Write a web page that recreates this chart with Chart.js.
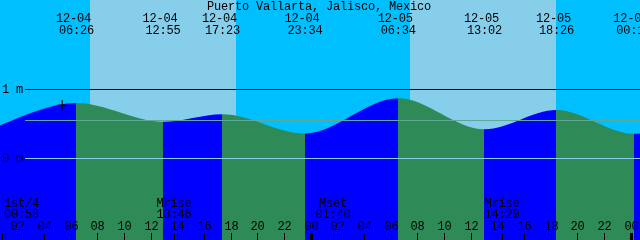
<!DOCTYPE html>
<html>
<head>
<meta charset="utf-8">
<script src="https://cdn.jsdelivr.net/npm/chart.js@4.4.0/dist/chart.umd.min.js"></script>
<style>
  html, body { margin: 0; padding: 0; background: #00bfff; }
  #wrap { width: 640px; height: 240px; }
</style>
</head>
<body>
<div id="wrap"><canvas id="tide" width="640" height="240"></canvas></div>
<script>
const title = 'Puerto Vallarta, Jalisco, Mexico';

// high and low tides (first and last fall just outside the graph)
const tideTimes = ['12-03 23:15', '12-04 06:26', '12-04 12:55', '12-04 17:23', '12-04 23:34',
                   '12-05 06:34', '12-05 13:02', '12-05 18:26', '12-06 00:14', '12-06 07:00'];
const tideHeights = [0.38, 0.80, 0.53, 0.64, 0.36, 0.87, 0.42, 0.70, 0.355, 0.90];

const sunrises = ['12-04 07:27', '12-05 07:27'];
const sunsets = ['12-04 18:24', '12-05 18:24'];

const moonTimes = ['12-04 00:58', '12-04 13:46', '12-05 01:40', '12-05 14:20'];
const moonEvents = ['1st/4', 'Mrise', 'Mset', 'Mrise'];

const markTime = '12-04 05:22';
const markHeight = 0.77;

const levels = [1, 0.55, 0];
const levelLabels = ['1 m', '', '0 m'];

const hourTicks = [2, 4, 6, 8, 10, 12, 14, 16, 18, 20, 22, 24,
                   26, 28, 30, 32, 34, 36, 38, 40, 42, 44, 46, 48];

const startTime = '12-04 00:42';

const DAY = '#87ceeb';
const NIGHT = '#00bfff';
const RISE = '#0000ff';
const FALL = '#2e8b57';
const FONT = '12px "Liberation Mono", "DejaVu Sans Mono", monospace';

// "12-04 06:26" -> hours since 12-04 00:00
function toHours(s) {
    const [md, hm] = s.split(' ');
    const day = Number(md.split('-')[1]);
    const [hh, mm] = hm.split(':').map(Number);
    return (day - 4) * 24 + hh + mm / 60;
}

const xMin = toHours(startTime);
const xMax = xMin + 48;

// water is blue while the tide rises, green while it falls
function waterFill(c) {
    const chart = c.chart;
    const area = chart.chartArea;
    if (!area) return RISE;
    const x = chart.scales.x;
    const g = chart.ctx.createLinearGradient(area.left, 0, area.right, 0);
    let prev = null;
    for (let i = 1; i < tideTimes.length; i++) {
        const col = tideHeights[i] > tideHeights[i - 1] ? RISE : FALL;
        const px = x.getPixelForValue(toHours(tideTimes[i - 1]));
        const f = Math.min(1, Math.max(0, (px - area.left) / area.width));
        if (prev) g.addColorStop(f, prev);
        g.addColorStop(f, col);
        prev = col;
    }
    g.addColorStop(1, prev);
    return g;
}

const tideArt = {
    id: 'tideArt',
    beforeDatasetsDraw(chart) {
        const { ctx, chartArea: a, scales: { x } } = chart;
        ctx.save();
        ctx.fillStyle = NIGHT;
        ctx.fillRect(a.left, a.top, a.width, a.height);
        ctx.fillStyle = DAY;
        sunrises.forEach((t, i) => {
            const x0 = Math.round(x.getPixelForValue(toHours(t)));
            const x1 = Math.round(x.getPixelForValue(toHours(sunsets[i])));
            ctx.fillRect(x0, a.top, x1 - x0, a.height);
        });
        ctx.restore();
    },
    afterDatasetsDraw(chart) {
        const { ctx, chartArea: a, scales: { x, y } } = chart;
        ctx.save();
        ctx.font = FONT;
        ctx.letterSpacing = '-0.2px';
        ctx.fillStyle = '#000';

        // level lines
        const lineColors = ['#000000', '#5fa898', '#87ceeb'];
        levels.forEach((v, i) => {
            const py = Math.round(y.getPixelForValue(v));
            ctx.fillStyle = lineColors[i];
            ctx.fillRect(25, py, a.right - 25, 1);
            if (levelLabels[i]) {
                ctx.fillStyle = '#000';
                ctx.textAlign = 'left';
                ctx.fillText(levelLabels[i], 2, py + 4);
            }
        });

        ctx.fillStyle = '#000';
        ctx.textAlign = 'center';
        ctx.fillText(title, 319, 10);

        // high / low labels along the top
        tideTimes.forEach(t => {
            const h = toHours(t);
            if (h < xMin || h > xMax) return;
            const px = x.getPixelForValue(h);
            const [date, time] = t.split(' ');
            ctx.fillText(date, px - 3, 22);
            ctx.fillText(time, px, 34);
        });

        // hour ticks
        hourTicks.forEach(h => {
            const px = Math.round(x.getPixelForValue(h));
            if (h % 24 === 0) {
                ctx.fillRect(px - 1, 233, 3, 7);
            } else {
                ctx.fillRect(px, 233, 1, 7);
            }
            ctx.fillText(String(h % 24).padStart(2, '0'), px + 0.5, 230);
        });

        // moon events
        moonTimes.forEach((t, i) => {
            const px = Math.round(x.getPixelForValue(toHours(t)));
            if (moonEvents[i].includes('/')) {
                ctx.fillRect(px - 2, 233, 1, 7);
                ctx.fillRect(px + 1, 233, 1, 7);
            } else {
                ctx.fillRect(px, 233, 1, 7);
            }
            const lx = Math.max(px, 21.5);
            ctx.fillText(moonEvents[i], lx, 207);
            ctx.fillText(t.split(' ')[1], lx, 218);
        });
        ctx.restore();
    }
};

new Chart(document.getElementById('tide'), {
    type: 'line',
    data: {
        datasets: [
            {
                data: [{ x: toHours(markTime), y: markHeight }],
                showLine: false,
                pointStyle: 'cross',
                pointRadius: 5,
                pointBorderColor: '#000',
                pointBorderWidth: 1,
                order: 0
            },
            {
                data: tideTimes.map((t, i) => ({ x: toHours(t), y: tideHeights[i] })),
                cubicInterpolationMode: 'monotone',
                borderColor: 'rgba(0,0,0,0)',
                borderWidth: 0,
                pointRadius: 0,
                fill: 'start',
                backgroundColor: waterFill,
                order: 1
            }
        ]
    },
    options: {
        responsive: false,
        animation: false,
        events: [],
        layout: { padding: 0, autoPadding: false },
        scales: {
            x: { type: 'linear', min: xMin, max: xMax, display: false },
            y: { type: 'linear', min: -1.184, max: 2.294, display: false }
        },
        plugins: {
            legend: { display: false },
            title: { display: false },
            tooltip: { enabled: false }
        }
    },
    plugins: [tideArt]
});
</script>
</body>
</html>
